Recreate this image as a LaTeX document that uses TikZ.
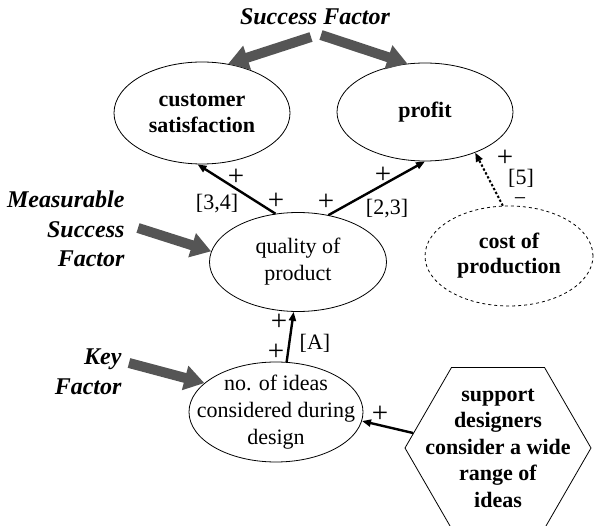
\documentclass[tikz,border=0pt]{standalone}
\usepackage{fontspec}
\setmainfont{Liberation Serif}
\usetikzlibrary{arrows.meta, shapes.geometric}
\definecolor{pointergray}{RGB}{85,85,85}

\begin{document}
\begin{tikzpicture}[
    x=1pt, y=-1pt,
    every node/.style={font=\fontsize{22}{27}\selectfont},
    oval/.style={draw, ellipse, line width=0.8pt, inner sep=0pt, align=center},
    goal/.style={oval, font=\fontsize{22}{26}\selectfont\bfseries},
    hexbox/.style={draw, regular polygon, regular polygon sides=6, line width=0.8pt, inner sep=0pt},
    factor/.style={font=\fontsize{24}{29.5}\selectfont\bfseries\itshape},
    sign/.style={inner sep=0pt, text height=15pt, text depth=5pt},
    plus/.style={inner sep=0pt, font=\fontsize{29}{29}\selectfont},
    link/.style={-{Triangle[length=9pt,width=7pt]}, line width=2.4pt},
    pointer/.style={-{Triangle[length=20pt,width=24pt]}, line width=10pt, draw=pointergray},
]
\useasboundingbox (0,0) rectangle (595,526);

% --- Factors ---
\node[factor] (sf) at (315,17) {Success Factor};
\node[factor, align=right, anchor=east] (msf) at (128,229) {Measurable\\Success\\Factor};
\node[factor, align=right, anchor=east] (kf) at (125,372) {Key\\Factor};

% --- Ellipses ---
\node[goal, minimum width=176pt, minimum height=102pt] (cust) at (202,113) {customer\\satisfaction};
\node[goal, minimum width=176pt, minimum height=98pt] (profit) at (425,112) {profit};
\node[oval, minimum width=177pt, minimum height=99pt] (qual) at (298,262) {quality of\\product};
\node[goal, dashed, minimum width=168pt, minimum height=100pt, font=\fontsize{22}{25}\selectfont\bfseries] (cost) at (509,256) {cost of\\production};
\node[oval, minimum width=174pt, minimum height=100pt,
      label={[align=center]center:no. of ideas\\considered during\\design}] (ideas) at (276,412) {};
\node[hexbox, minimum size=186pt,
      label={[align=center, font=\fontsize{22}{26.5}\selectfont\bfseries]center:support\\designers\\consider a wide\\range of\\ideas}] (support) at (498,448) {};

% --- Links ---
\draw[link] (qual.115) -- (cust.265);
\draw[link] (qual.57) -- (profit.270);
\draw[link] (ideas.78) -- (qual.265);
\draw[link, dotted, line width=2pt] (cost.97) -- (profit.321);
\draw[link] (support.170) -- (ideas.354);

% --- Signs ---
\node[plus] (s1) at (236,177) {+};
\node[sign] (w1) at (217,205) {[3,4]};
\node[plus] (s2) at (276,201) {+};
\node[plus] (s3) at (326,202) {+};
\node[plus] (s4) at (383,175) {+};
\node[sign] (w2) at (387,210) {[2,3]};
\node[plus] (s5) at (505,158) {+};
\node[sign] (w3) at (521,180) {[5]};
\node[sign] (m1) at (520,201) {−};
\node[plus] (s6) at (279,322) {+};
\node[plus] (s7) at (276,352) {+};
\node[sign] (w4) at (315,345) {[A]};
\node[plus] (s8) at (380,414) {+};

% --- Pointers ---
\coordinate (sfl) at (311,37);
\coordinate (sfr) at (321,35);
\coordinate (msft) at (138,228);
\coordinate (kft) at (129,363);
\draw[pointer] (sfl) -- (cust.62);
\draw[pointer] (sfr) -- (profit.110);
\draw[pointer] (msft) -- (qual.173);
\draw[pointer] (kft) -- (ideas.158);

\end{tikzpicture}
\end{document}
